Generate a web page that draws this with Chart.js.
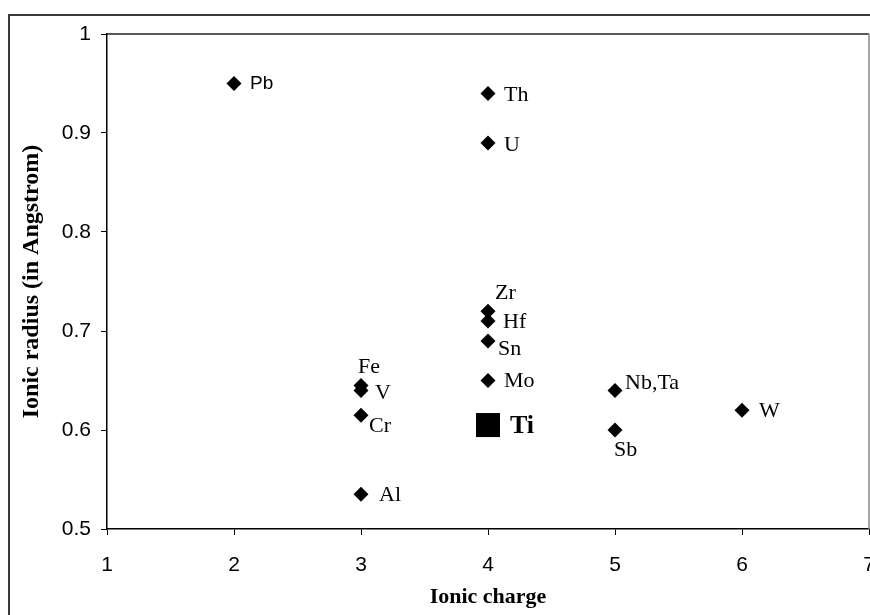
<!DOCTYPE html>
<html>
<head>
<meta charset="utf-8">
<title>Ionic radius vs ionic charge</title>
<script src="https://cdn.jsdelivr.net/npm/chart.js@4.4.1/dist/chart.umd.min.js"></script>
<style>
  html, body { margin: 0; padding: 0; background: #fff; }
  #wrap { width: 870px; height: 615px; }
</style>
</head>
<body>
<div id="wrap"><canvas id="c" width="870" height="615"></canvas></div>
<script>
// Elements substituting for Ti: ionic charge and ionic radius (Angstrom)
const elements    = ['Pb', 'Th', 'U', 'Zr', 'Hf', 'Sn', 'Mo', 'Fe', 'V', 'Cr', 'Al', 'Nb,Ta', 'Sb', 'W'];
const ionicCharge = [2, 4, 4, 4, 4, 4, 4, 3, 3, 3, 3, 5, 5, 6];
const ionicRadius = [0.95, 0.94, 0.89, 0.72, 0.71, 0.69, 0.65, 0.645, 0.64, 0.615, 0.535, 0.64, 0.60, 0.62];

// Titanium itself, drawn with a larger square marker
const hostElement = ['Ti'];
const hostCharge  = [4];
const hostRadius  = [0.605];

// Axis ranges and tick values
const chargeTicks = [1, 2, 3, 4, 5, 6, 7];
const radiusTicks = [0.5, 0.6, 0.7, 0.8, 0.9, 1];

// Label placement relative to each marker (pixels)
const labelOffset = {
  'Pb': [16, 0], 'Th': [16, 2], 'U': [16, 2], 'Zr': [7, -18], 'Hf': [15, 1],
  'Sn': [10, 8], 'Mo': [16, 1], 'Fe': [-3, -18], 'V': [14, 3], 'Cr': [8, 11],
  'Al': [18, 1], 'Nb,Ta': [10, -7], 'Sb': [-1, 20], 'W': [17, 1], 'Ti': [22, 1]
};

const serif = '"Liberation Serif", "Times New Roman", serif';
const sans  = '"Liberation Sans", Arial, sans-serif';

const toPoints = (xs, ys) => xs.map((x, i) => ({ x: x, y: ys[i] }));

// Frame around the whole chart plus the plot area box
const framePlugin = {
  id: 'frame',
  beforeDraw(chart) {
    const ctx = chart.ctx;
    ctx.save();
    ctx.fillStyle = '#fff';
    ctx.fillRect(0, 0, chart.width, chart.height);
    ctx.strokeStyle = '#3a3a3a';
    ctx.lineWidth = 2;
    ctx.strokeRect(9, 15, chart.width + 20, chart.height + 20);
    ctx.restore();
  },
  beforeDatasetsDraw(chart) {
    const { ctx, chartArea: a } = chart;
    ctx.save();
    ctx.lineWidth = 1.5;
    ctx.strokeStyle = '#222';
    ctx.beginPath();
    ctx.moveTo(a.left, a.top);
    ctx.lineTo(a.right, a.top);
    ctx.stroke();
    ctx.strokeStyle = '#888';
    ctx.beginPath();
    ctx.moveTo(a.right, a.top);
    ctx.lineTo(a.right, a.bottom);
    ctx.stroke();
    ctx.restore();
  }
};

// Element symbols next to the markers
const labelPlugin = {
  id: 'elementLabels',
  afterDatasetsDraw(chart) {
    const ctx = chart.ctx;
    ctx.save();
    ctx.fillStyle = '#000';
    ctx.textAlign = 'left';
    ctx.textBaseline = 'middle';
    chart.data.datasets.forEach((ds, di) => {
      const meta = chart.getDatasetMeta(di);
      ds.names.forEach((name, i) => {
        const pt = meta.data[i];
        const off = labelOffset[name] || [12, 0];
        if (name === 'Ti') ctx.font = 'bold 26px ' + serif;
        else if (name === 'Pb') ctx.font = '19px ' + sans;
        else ctx.font = '22px ' + serif;
        ctx.fillText(name, pt.x + off[0], pt.y + off[1]);
      });
    });
    ctx.restore();
  }
};

new Chart(document.getElementById('c'), {
  type: 'scatter',
  data: {
    datasets: [
      {
        names: elements,
        data: toPoints(ionicCharge, ionicRadius),
        pointStyle: 'rectRot',
        pointRadius: 7.5,
        pointHoverRadius: 7.5,
        backgroundColor: '#000',
        borderColor: '#000',
        borderWidth: 0
      },
      {
        names: hostElement,
        data: toPoints(hostCharge, hostRadius),
        pointStyle: 'rect',
        pointRadius: 17,
        pointHoverRadius: 17,
        backgroundColor: '#000',
        borderColor: '#000',
        borderWidth: 0
      }
    ]
  },
  options: {
    responsive: false,
    devicePixelRatio: 1,
    animation: false,
    events: [],
    layout: { autoPadding: false, padding: { top: 34, right: 1, left: 0, bottom: 0 } },
    plugins: { legend: { display: false }, tooltip: { enabled: false } },
    scales: {
      x: {
        type: 'linear',
        min: chargeTicks[0],
        max: chargeTicks[chargeTicks.length - 1],
        afterBuildTicks: s => { s.ticks = chargeTicks.map(v => ({ value: v })); },
        afterFit: s => { s.height = 86; s.paddingLeft = 0; s.paddingRight = 0; },
        border: { display: true, color: '#000', width: 1.5 },
        grid: { display: true, drawOnChartArea: false, drawTicks: true, tickLength: 6, color: '#000', lineWidth: 1 },
        ticks: { color: '#000', padding: 18, font: { family: sans, size: 21 }, callback: v => String(v) },
        title: { display: true, text: 'Ionic charge', color: '#000', padding: { top: 0, bottom: 4 },
                 font: { family: serif, size: 22, weight: 'bold' } }
      },
      y: {
        type: 'linear',
        min: radiusTicks[0],
        max: radiusTicks[radiusTicks.length - 1],
        afterBuildTicks: s => { s.ticks = radiusTicks.map(v => ({ value: v })); },
        afterFit: s => { s.width = 107; s.paddingTop = 0; s.paddingBottom = 0; },
        border: { display: true, color: '#000', width: 1.5 },
        grid: { display: true, drawOnChartArea: false, drawTicks: true, tickLength: 6, color: '#000', lineWidth: 1 },
        ticks: { color: '#000', padding: 10, font: { family: sans, size: 21 },
                 callback: v => (v === 1 ? '1' : Number(v).toFixed(1)) },
        title: { display: true, text: 'Ionic radius (in Angstrom)', color: '#000', padding: { top: 17, bottom: 0 },
                 font: { family: serif, size: 24, weight: 'bold' } }
      }
    }
  },
  plugins: [framePlugin, labelPlugin]
});
</script>
</body>
</html>
